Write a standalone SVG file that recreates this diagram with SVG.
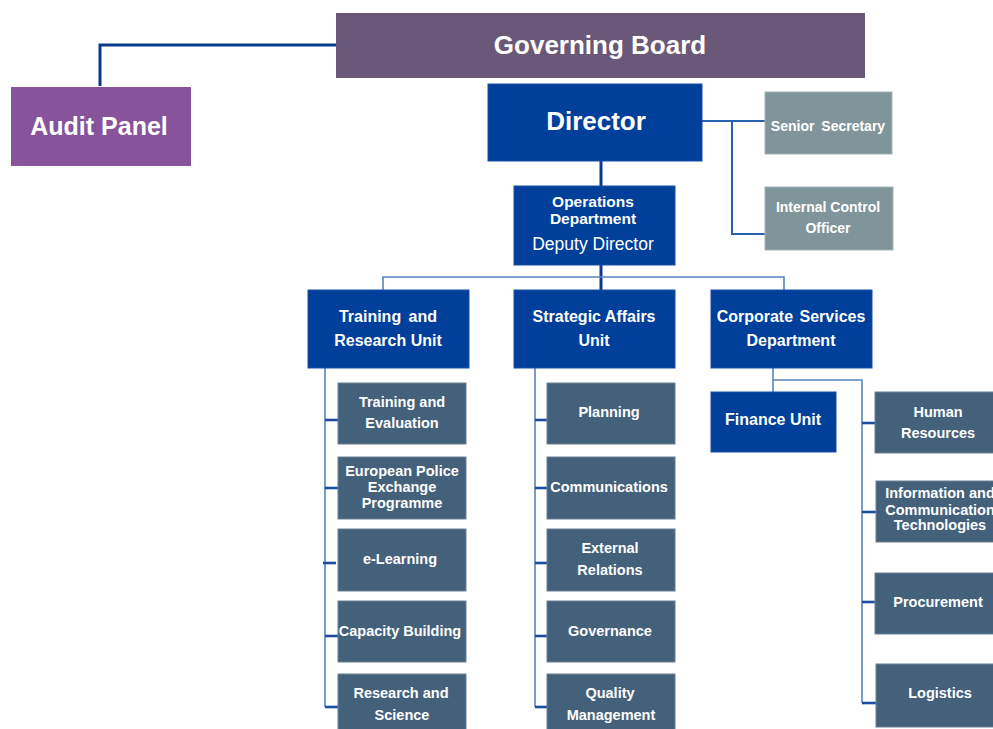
<svg xmlns="http://www.w3.org/2000/svg" width="993" height="729" viewBox="0 0 993 729">
<style>
text{font-family:"Liberation Sans",Arial,sans-serif;fill:#ffffff;text-anchor:middle;font-weight:bold}
.gb{fill:#6a5878}
.ap{fill:#87539a}
.bl{fill:#003f9a;stroke:#1a4fa5;stroke-width:1}
.gr{fill:#80959a;stroke:#a4b3b7;stroke-width:1}
.sb{fill:#44617b;stroke:#6b8194;stroke-width:1}
.thick{stroke:#0a3a8c;stroke-width:3;fill:none}
.mid{stroke:#2b5fb0;stroke-width:2;fill:none}
.thin{stroke:#5b83bd;stroke-width:1.6;fill:none}
.stub{stroke:#1b4e9e;stroke-width:2.6;fill:none}
.s14{font-size:14.5px}
.s16{font-size:16px}
</style>
<rect width="993" height="729" fill="#ffffff"/>
<g id="connectors">
<polyline class="thick" points="100,86 100,45 336,45"/>
<line class="thick" x1="601" y1="161" x2="601" y2="186"/>
<line class="thick" x1="601" y1="265" x2="601" y2="290"/>
<polyline class="mid" points="702,121 765,121"/>
<polyline class="mid" points="732,121 732,234 765,234"/>
<polyline class="thin" points="383,290 383,277 784,277 784,290"/>
<line class="thin" x1="325" y1="368" x2="325" y2="707"/>
<line class="stub" x1="325" y1="420" x2="338" y2="420"/>
<line class="stub" x1="325" y1="488" x2="338" y2="488"/>
<line class="stub" x1="323" y1="563" x2="336" y2="563"/>
<line class="stub" x1="325" y1="636" x2="338" y2="636"/>
<line class="stub" x1="325" y1="707" x2="338" y2="707"/>
<line class="thin" x1="535" y1="368" x2="535" y2="707"/>
<line class="stub" x1="535" y1="420" x2="547" y2="420"/>
<line class="stub" x1="535" y1="488" x2="547" y2="488"/>
<line class="stub" x1="535" y1="563" x2="547" y2="563"/>
<line class="stub" x1="535" y1="636" x2="547" y2="636"/>
<line class="stub" x1="535" y1="707" x2="547" y2="707"/>
<polyline class="thin" points="773,368 773,392"/>
<polyline class="thin" points="773,380 862,380 862,703"/>
<line class="stub" x1="862" y1="423" x2="875" y2="423"/>
<line class="stub" x1="862" y1="512" x2="876" y2="512"/>
<line class="stub" x1="862" y1="602" x2="875" y2="602"/>
<line class="stub" x1="862" y1="703" x2="876" y2="703"/>
</g>
<g id="governing-board"><rect class="gb" x="336" y="13" width="529" height="65"/><text x="600" y="54" style="font-size:26px">Governing Board</text></g>
<g id="audit-panel"><rect class="ap" x="11" y="87" width="180" height="79"/><text x="99" y="135" style="font-size:25px">Audit Panel</text></g>
<g id="director"><rect class="bl" x="488" y="84" width="214" height="77"/><text x="596" y="130" style="font-size:26px">Director</text></g>
<g id="senior-secretary"><rect class="gr" x="765" y="92" width="127" height="62"/><text x="828" y="131" style="font-size:14px;word-spacing:3px">Senior Secretary</text></g>
<g id="internal-control"><rect class="gr" x="765" y="187" width="128" height="63"/><text x="828" y="212" style="font-size:14px">Internal Control</text><text x="828" y="233" style="font-size:14px">Officer</text></g>
<g id="operations"><rect class="bl" x="514" y="186" width="161" height="79"/><text x="593" y="207" style="font-size:15.5px">Operations</text><text x="593" y="224" style="font-size:15.5px">Department</text><text x="593" y="250" style="font-size:17.5px;font-weight:normal">Deputy Director</text></g>
<g id="training-research"><rect class="bl" x="308" y="290" width="161" height="78"/><text class="s16" x="388" y="322" style="word-spacing:3px">Training and</text><text class="s16" x="388" y="346">Research Unit</text></g>
<g id="strategic-affairs"><rect class="bl" x="514" y="290" width="161" height="78"/><text class="s16" x="594" y="322">Strategic Affairs</text><text class="s16" x="594" y="346">Unit</text></g>
<g id="corporate-services"><rect class="bl" x="711" y="290" width="161" height="78"/><text class="s16" x="791" y="322" style="word-spacing:2px">Corporate Services</text><text class="s16" x="791" y="346">Department</text></g>
<g id="training-evaluation"><rect class="sb" x="338" y="383" width="128" height="61"/><text class="s14" x="402" y="407">Training and</text><text class="s14" x="402" y="428">Evaluation</text></g>
<g id="european-police"><rect class="sb" x="338" y="457" width="128" height="62"/><text class="s14" x="402" y="476">European Police</text><text class="s14" x="402" y="492">Exchange</text><text class="s14" x="402" y="508">Programme</text></g>
<g id="e-learning"><rect class="sb" x="338" y="529" width="128" height="62"/><text class="s14" x="400" y="564">e-Learning</text></g>
<g id="capacity-building"><rect class="sb" x="338" y="601" width="128" height="61"/><text class="s14" x="400" y="636">Capacity Building</text></g>
<g id="research-science"><rect class="sb" x="338" y="674" width="128" height="60"/><text class="s14" x="401" y="698">Research and</text><text class="s14" x="402" y="720">Science</text></g>
<g id="planning"><rect class="sb" x="547" y="383" width="128" height="61"/><text class="s14" x="609" y="417">Planning</text></g>
<g id="communications"><rect class="sb" x="547" y="457" width="128" height="62"/><text class="s14" x="609" y="492">Communications</text></g>
<g id="external-relations"><rect class="sb" x="547" y="529" width="128" height="62"/><text class="s14" x="610" y="553">External</text><text class="s14" x="610" y="575">Relations</text></g>
<g id="governance"><rect class="sb" x="547" y="601" width="128" height="61"/><text class="s14" x="610" y="636">Governance</text></g>
<g id="quality-management"><rect class="sb" x="547" y="674" width="128" height="60"/><text class="s14" x="610" y="698">Quality</text><text class="s14" x="611" y="720">Management</text></g>
<g id="finance-unit"><rect class="bl" x="711" y="392" width="125" height="60"/><text class="s16" x="773" y="425">Finance Unit</text></g>
<g id="human-resources"><rect class="sb" x="875" y="392" width="125" height="61"/><text class="s14" x="938" y="417">Human</text><text class="s14" x="938" y="438">Resources</text></g>
<g id="ict"><rect class="sb" x="876" y="481" width="124" height="61"/><text class="s14" x="940" y="498">Information and</text><text class="s14" x="940" y="515">Communication</text><text class="s14" x="940" y="530">Technologies</text></g>
<g id="procurement"><rect class="sb" x="875" y="573" width="125" height="61"/><text class="s14" x="938" y="607">Procurement</text></g>
<g id="logistics"><rect class="sb" x="876" y="664" width="124" height="63"/><text class="s14" x="940" y="698">Logistics</text></g>
</svg>
